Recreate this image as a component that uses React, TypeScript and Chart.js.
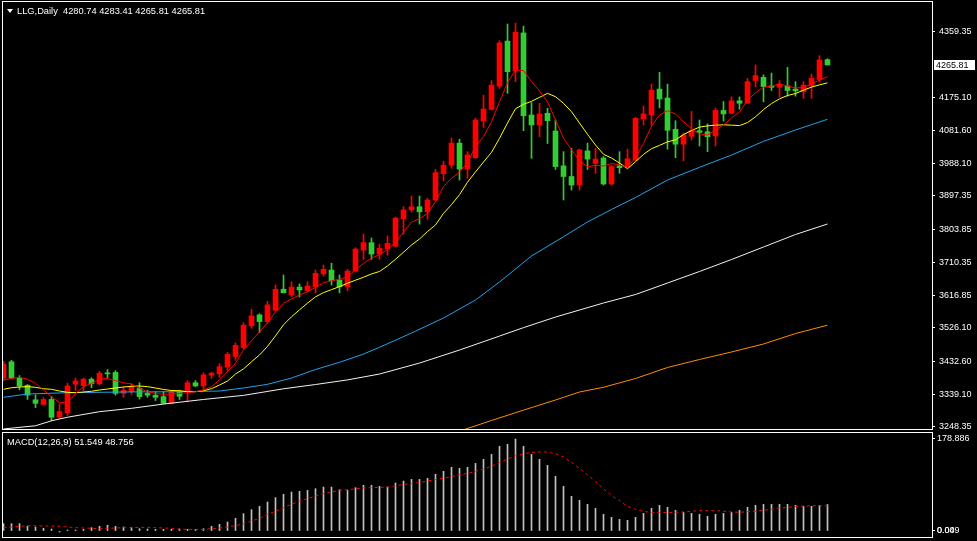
import React, { useEffect, useRef } from "react";
import { Chart, registerables } from "chart.js";

Chart.register(...registerables);

const FONT = "'Liberation Sans', Arial, sans-serif";
const UP = "#ff0000";
const DOWN = "#32cd32";

// ---- price data (daily candles) ----
const opens = [
  3385, 3431, 3385, 3365, 3324, 3311, 3325, 3275, 3288, 3368,
  3364, 3382, 3369, 3400, 3401, 3342, 3347, 3356, 3342, 3337,
  3333, 3314, 3347, 3347, 3372, 3363, 3393, 3397, 3416, 3446,
  3471, 3532, 3563, 3544, 3576, 3635, 3619, 3641, 3631, 3642,
  3678, 3689, 3661, 3642, 3686, 3745, 3766, 3734, 3748, 3756,
  3833, 3858, 3867, 3853, 3886, 3960, 3984, 4046, 3973, 4005,
  4108, 4141, 4206, 4333, 4249, 4356, 4125, 4097, 4130, 4080,
  3982, 3952, 3928, 4024, 3989, 4004, 3931, 3982, 3979, 3998,
  4114, 4125, 4198, 4173, 4085, 4043, 4065, 4081, 4078, 4066,
  4138, 4130, 4165, 4158, 4222, 4231, 4207, 4203, 4207, 4198,
  4191, 4207, 4225, 4280.74,
];
const highs = [
  3432, 3435, 3392, 3367, 3338, 3330, 3333, 3313, 3371, 3385,
  3385, 3386, 3404, 3409, 3406, 3361, 3369, 3372, 3351, 3347,
  3347, 3351, 3351, 3378, 3378, 3400, 3401, 3426, 3457, 3484,
  3541, 3579, 3566, 3601, 3647, 3675, 3656, 3650, 3656, 3689,
  3703, 3708, 3675, 3691, 3752, 3790, 3779, 3762, 3785, 3838,
  3867, 3897, 3897, 3891, 3972, 3995, 4060, 4057, 4022, 4116,
  4181, 4222, 4334, 4381, 4383, 4375, 4160, 4158, 4144, 4111,
  4022, 4031, 4029, 4046, 4031, 4008, 3984, 4022, 4029, 4118,
  4150, 4212, 4245, 4212, 4109, 4074, 4135, 4111, 4100, 4145,
  4163, 4176, 4176, 4228, 4266, 4238, 4243, 4222, 4259, 4219,
  4219, 4240, 4292, 4283.41,
];
const lows = [
  3378, 3383, 3352, 3325, 3302, 3311, 3265, 3272, 3280, 3350,
  3350, 3358, 3366, 3386, 3337, 3331, 3339, 3326, 3331, 3322,
  3313, 3314, 3325, 3319, 3361, 3352, 3384, 3387, 3405, 3435,
  3468, 3525, 3513, 3539, 3574, 3625, 3614, 3613, 3627, 3625,
  3672, 3647, 3625, 3631, 3684, 3719, 3719, 3719, 3731, 3754,
  3790, 3852, 3818, 3832, 3884, 3940, 3975, 3942, 3947, 4003,
  4090, 4139, 4200, 4186, 4219, 4081, 4003, 4064, 4045, 3972,
  3886, 3914, 3914, 3972, 3961, 3928, 3928, 3961, 3979, 3996,
  4097, 4097, 4145, 4029, 4005, 3996, 4055, 4038, 4022, 4038,
  4108, 4128, 4141, 4158, 4205, 4162, 4194, 4175, 4178, 4178,
  4172, 4172, 4218, 4265.81,
];
const closes = [
  3425, 3385, 3363, 3337, 3314, 3325, 3275, 3291, 3363, 3377,
  3382, 3369, 3399, 3397, 3342, 3351, 3359, 3333, 3337, 3331,
  3314, 3345, 3334, 3372, 3363, 3394, 3399, 3417, 3452, 3477,
  3534, 3560, 3544, 3591, 3635, 3625, 3641, 3633, 3644, 3680,
  3691, 3659, 3642, 3686, 3748, 3766, 3734, 3750, 3764, 3835,
  3858, 3867, 3853, 3886, 3963, 3984, 4046, 3973, 4013, 4111,
  4142, 4209, 4328, 4247, 4358, 4123, 4097, 4128, 4109, 3980,
  3952, 3928, 4027, 4001, 4001, 3931, 3980, 3977, 4002, 4116,
  4128, 4195, 4170, 4082, 4043, 4069, 4081, 4076, 4064, 4138,
  4128, 4165, 4158, 4219, 4236, 4205, 4203, 4212, 4194, 4193,
  4209, 4228, 4280, 4265.81,
];

// ---- moving averages ----
const maRed = [
  3379.7, 3384.4, 3387.2, 3381.7, 3370.4, 3351.6, 3332.8, 3316, 3316, 3342,
  3360.8, 3370, 3381.7, 3384.4, 3377.7, 3372, 3368.4, 3356.3, 3346.8, 3342,
  3339.5, 3340.3, 3342, 3344, 3346.8, 3351.6, 3360.8, 3380, 3403, 3426.6,
  3464, 3490, 3515.5, 3540.8, 3571.8, 3595.4, 3607.5, 3618.7, 3628, 3640.4,
  3653.3, 3659, 3663, 3670.2, 3690, 3708, 3722.8, 3732.2, 3746.3, 3766.8,
  3795.8, 3823.9, 3833.4, 3848, 3881.2, 3924, 3947, 3964.7, 3990, 4037.8,
  4064, 4106.2, 4162.4, 4215.9, 4251.6, 4250, 4218.7, 4192.6, 4162.4, 4111,
  4059.5, 4027.5, 3996.6, 3979.6, 3983.6, 3981.6, 3988.6, 3984.4, 3978.8, 4004,
  4045.4, 4094, 4125, 4137.1, 4127.8, 4106.2, 4086.5, 4071.6, 4068.8, 4082.9,
  4097, 4116.6, 4133.5, 4166.4, 4187.8, 4202.9, 4206.6, 4212.2, 4206.6, 4201,
  4202.9, 4212.2, 4223.5, 4232.8,
];
const maYellow = [
  3353.5, 3358, 3360, 3361, 3359.1, 3355.2, 3353.5, 3348.7, 3345, 3344,
  3346, 3348, 3351.6, 3354.4, 3357.2, 3360, 3362, 3362.8, 3361, 3357.2,
  3353, 3350.1, 3349.6, 3346.8, 3346.8, 3349.6, 3355.2, 3365.6, 3376.8, 3396.5,
  3411, 3431, 3450, 3474.3, 3504, 3535, 3557.6, 3577.2, 3596, 3613.6,
  3625.5, 3634, 3642.4, 3651.9, 3660.4, 3668.8, 3678, 3685, 3700.5, 3719.3,
  3739, 3759.4, 3776.3, 3797.4, 3815.7, 3848.5, 3873, 3901, 3936, 3965,
  3992.9, 4020, 4059.5, 4102.5, 4142.8, 4155.2, 4163.6, 4174.8, 4186, 4176.5,
  4157.9, 4134.3, 4102.5, 4070.8, 4040.7, 4014.5, 4004, 3990, 3974.1, 3993.8,
  4014.3, 4030.3, 4039.6, 4049.6, 4055.2, 4070.1, 4081.4, 4090.9, 4094.5, 4096.5,
  4097.4, 4096.5, 4095.4, 4103.8, 4119.9, 4140.4, 4157.3, 4170.5, 4179.9, 4185.4,
  4195, 4203.4, 4209.9, 4215.5,
];
const maBlueAt = [0, 3, 8, 15, 22, 27, 30, 33, 36, 39, 42, 45, 47, 51, 55, 59, 62, 66, 70, 73, 76, 79, 83, 87, 91, 95, 99, 103];
const maBlue = [3331, 3340.3, 3344, 3346, 3346.8, 3348.7, 3357.2, 3367.6, 3385.3, 3409.2, 3429.5, 3452.8, 3471.7, 3511.9, 3554.1, 3604.7, 3655.4, 3728.5, 3782.8, 3824.1, 3859.3, 3893, 3942.2, 3977.9, 4012.5, 4051, 4082.9, 4113];
const maWhiteAt = [0, 4, 6, 8, 12, 16, 20, 25, 30, 35, 39, 43, 47, 52, 57, 62, 65, 69, 75, 79, 83, 87, 91, 95, 99, 103];
const maWhite = [3242, 3251, 3265, 3275, 3290.6, 3300, 3312, 3325, 3336.5, 3355, 3367, 3380, 3396.5, 3427.4, 3464, 3503.3, 3527, 3556.8, 3596.3, 3620.2, 3652.5, 3684.9, 3718.6, 3753.8, 3789, 3818.5];
const maOrangeAt = [57, 61, 65, 69, 72, 75, 79, 83, 87, 91, 95, 99, 103];
const maOrange = [3236, 3265.8, 3295, 3323.5, 3346, 3359.3, 3383.9, 3414.9, 3437.4, 3458.5, 3481, 3510.5, 3533.9];

// ---- MACD(12,26,9) ----
const macdMain = [
  14.3, 14.3, 14.3, 9.1, 7.8, 5.2, 3.9, -2, 2, 2,
  3, 6.5, 9.1, 11, 9.1, 7.8, 6.5, 4.5, 3.9, 3.2,
  3.2, 3.2, 3.9, 3.2, 3.2, 4.5, 9.1, 13, 17.5, 24.6,
  33.7, 41.5, 48, 56.4, 64.8, 71.3, 75.8, 77.1, 79, 82.3,
  85.5, 85.5, 80.4, 79, 84.2, 88.8, 88.8, 86.8, 85.5, 93.3,
  97.2, 100.4, 100.4, 102.4, 110.2, 116, 123.8, 121.8, 123.8, 131.5,
  139.3, 149, 164.6, 168.5, 178.886, 164.6, 149, 139.3, 127.7, 106.3,
  86.8, 67.4, 59.6, 51.8, 44, 32.4, 26.6, 22.7, 20.7, 26.6,
  34.3, 44, 49.9, 46, 40.2, 36.3, 34.3, 32.4, 28.5, 32.4,
  34.3, 36.3, 40.2, 46, 49.9, 51.8, 51.8, 51.8, 51.8, 49.9,
  48, 48, 49.9, 51.549,
];
const macdSignal = [
  6.5, 7.8, 9.1, 10.4, 10.4, 9.7, 9.7, 9.1, 7.8, 6.5,
  5.8, 5.2, 4.5, 5.2, 5.8, 6.5, 6.5, 7.1, 7.1, 6.5,
  5.8, 5.2, 3.9, 3.2, 2.6, 3.2, 4.5, 5.8, 7.8, 10.4,
  14.3, 19.4, 24.6, 32.4, 38.2, 45.4, 51.8, 58.3, 62.9, 68,
  72.6, 76, 79, 80.5, 82, 83.8, 84.2, 84.8, 85.5, 87.8,
  90.5, 92.5, 94.6, 97, 100, 102.4, 106, 109.5, 112, 115.5,
  120.5, 126, 133, 140, 146, 150.3, 152.5, 154, 153.5, 150.5,
  143.9, 133.5, 122, 109, 96, 82, 69, 59, 48, 42,
  38, 36.3, 35.8, 35.8, 36.3, 37, 38.5, 39.5, 39.5, 39.5,
  38.5, 37, 36.3, 37.6, 38.5, 40.5, 42, 44.5, 46, 47.5,
  48.5, 49, 49.5, 48.756,
];

// ---- axis ticks ----
const priceTicks = [3248.35, 3339.1, 3432.6, 3526.1, 3616.85, 3710.35, 3803.85, 3897.35, 3988.1, 4081.6, 4175.1, 4359.35];
const macdTicks = [0, 0.049, 178.886];
const macdTickLabels = ["0.00", "0.049", "178.886"];

const X_MIN = -0.0625;
const X_MAX = 116.0625;

const framePlugin = {
  id: "frame",
  afterDatasetsDraw(chart: any) {
    const { ctx, chartArea: a } = chart;
    ctx.save();
    ctx.strokeStyle = "#ffffff";
    ctx.lineWidth = 1;
    ctx.strokeRect(a.left - 0.5, a.top - 0.5, a.right - a.left + 1, a.bottom - a.top + 1);
    ctx.restore();
  },
};

const pricePlugin = {
  id: "lastPrice",
  afterDraw(chart: any) {
    const { ctx, chartArea: a } = chart;
    const last = closes[closes.length - 1];
    const y = Math.round(chart.scales.y.getPixelForValue(last));
    ctx.save();
    ctx.fillStyle = "#ffffff";
    ctx.fillRect(a.right + 2, y - 5, 41, 10);
    ctx.fillStyle = "#000000";
    ctx.font = `9px ${FONT}`;
    ctx.textBaseline = "middle";
    ctx.textAlign = "left";
    ctx.fillText(last.toFixed(2), a.right + 4, y + 0.5);
    ctx.restore();
  },
};

function xyPairs(at: number[], vals: number[]) {
  return at.map((x, k) => ({ x, y: vals[k] }));
}

const fitRight = (scale: any) => {
  scale.width = 45;
  scale.paddingTop = 0;
  scale.paddingBottom = 0;
};

export default function App() {
  const mainRef = useRef<HTMLCanvasElement>(null);
  const macdRef = useRef<HTMLCanvasElement>(null);

  useEffect(() => {
    const idx = opens.map((_, i) => i);
    const colors = idx.map((i) => (closes[i] >= opens[i] ? UP : DOWN));
    const lineDs = (label: string, data: any[], color: string) => ({
      type: "line" as const,
      label,
      data,
      borderColor: color,
      borderWidth: 1,
      pointRadius: 0,
      tension: 0,
      fill: false,
      order: 0,
    });

    const main = new Chart(mainRef.current as HTMLCanvasElement, {
      type: "bar",
      data: {
        datasets: [
          lineDs("MA red", idx.map((i) => ({ x: i, y: maRed[i] })), "#ff0000"),
          lineDs("MA yellow", idx.map((i) => ({ x: i, y: maYellow[i] })), "#ffff00"),
          lineDs("MA blue", xyPairs(maBlueAt, maBlue), "#1fa3ec"),
          lineDs("MA white", xyPairs(maWhiteAt, maWhite), "#f2f2f2"),
          lineDs("MA orange", xyPairs(maOrangeAt, maOrange), "#ff8c00"),
          {
            type: "bar" as const,
            label: "body",
            data: idx.map((i) => ({ x: i, y: [opens[i], closes[i]] })) as any,
            backgroundColor: colors,
            borderWidth: 0,
            grouped: false,
            barPercentage: 1,
            categoryPercentage: 1,
            maxBarThickness: 5,
            minBarLength: 1,
            order: 1,
          },
          {
            type: "bar" as const,
            label: "wick",
            data: idx.map((i) => ({ x: i, y: [lows[i], highs[i]] })) as any,
            backgroundColor: colors,
            borderWidth: 0,
            grouped: false,
            barPercentage: 1,
            categoryPercentage: 1,
            maxBarThickness: 1,
            minBarLength: 1,
            order: 2,
          },
        ] as any,
      },
      options: {
        animation: false,
        responsive: true,
        maintainAspectRatio: false,
        devicePixelRatio: 1,
        layout: { padding: { left: 3, top: 2, right: 0, bottom: 2 } },
        plugins: { legend: { display: false }, tooltip: { enabled: false } },
        events: [],
        scales: {
          x: {
            type: "linear",
            min: X_MIN,
            max: X_MAX,
            offset: false,
            display: false,
            grid: { offset: false },
          },
          y: {
            type: "linear",
            position: "right",
            min: 3241.9,
            max: 4442.9,
            afterBuildTicks: (scale: any) => {
              scale.ticks = priceTicks.map((value) => ({ value }));
            },
            afterFit: fitRight,
            ticks: {
              autoSkip: false,
              color: "#ffffff",
              padding: 4,
              font: { family: FONT, size: 9 },
              callback: (v: any) => Number(v).toFixed(2),
            },
            grid: { drawOnChartArea: false, drawTicks: true, tickLength: 3, color: "#ffffff" },
            border: { display: true, color: "#ffffff", width: 1 },
          },
        },
      } as any,
      plugins: [framePlugin, pricePlugin],
    });

    const macd = new Chart(macdRef.current as HTMLCanvasElement, {
      type: "bar",
      data: {
        datasets: [
          {
            type: "line" as const,
            label: "Signal",
            data: idx.map((i) => ({ x: i, y: macdSignal[i] })),
            borderColor: "#ff0000",
            borderWidth: 1,
            borderDash: [3, 3],
            pointRadius: 0,
            tension: 0,
            order: 0,
          },
          {
            type: "bar" as const,
            label: "MACD",
            data: idx.map((i) => ({ x: i, y: macdMain[i] })),
            backgroundColor: "#c0c0c0",
            borderWidth: 0,
            grouped: false,
            barPercentage: 1,
            categoryPercentage: 1,
            maxBarThickness: 1,
            order: 1,
          },
        ] as any,
      },
      options: {
        animation: false,
        responsive: true,
        maintainAspectRatio: false,
        devicePixelRatio: 1,
        layout: { padding: { left: 3, top: 2, right: 0, bottom: 4 } },
        plugins: { legend: { display: false }, tooltip: { enabled: false } },
        events: [],
        scales: {
          x: {
            type: "linear",
            min: X_MIN,
            max: X_MAX,
            offset: false,
            display: false,
            grid: { offset: false },
          },
          y: {
            type: "linear",
            position: "right",
            min: -11.67,
            max: 190.55,
            afterBuildTicks: (scale: any) => {
              scale.ticks = macdTicks.map((value) => ({ value }));
            },
            afterFit: fitRight,
            ticks: {
              autoSkip: false,
              color: "#ffffff",
              padding: 2,
              font: { family: FONT, size: 9 },
              callback: (v: any) => {
                const k = macdTicks.indexOf(Number(v));
                return k >= 0 ? macdTickLabels[k] : "";
              },
            },
            grid: { drawOnChartArea: false, drawTicks: true, tickLength: 3, color: "#ffffff" },
            border: { display: true, color: "#ffffff", width: 1 },
          },
        },
      } as any,
      plugins: [framePlugin],
    });

    return () => {
      main.destroy();
      macd.destroy();
    };
  }, []);

  const textStyle: React.CSSProperties = {
    position: "absolute",
    color: "#ffffff",
    fontFamily: FONT,
    fontSize: 9.3,
    lineHeight: "10px",
    whiteSpace: "pre",
  };

  return (
    <div style={{ position: "absolute", left: 0, top: 0, width: 977, height: 541, background: "#000", overflow: "hidden" }}>
      <div style={{ position: "absolute", left: 0, top: 0, width: 977, height: 431 }}>
        <canvas ref={mainRef} />
      </div>
      <div style={{ position: "absolute", left: 0, top: 431, width: 977, height: 110 }}>
        <canvas ref={macdRef} />
      </div>
      <div
        style={{
          position: "absolute",
          left: 7,
          top: 9,
          width: 0,
          height: 0,
          borderLeft: "3px solid transparent",
          borderRight: "3px solid transparent",
          borderTop: "4px solid #ffffff",
        }}
      />
      <div style={{ ...textStyle, left: 17, top: 6 }}>LLG,Daily  4280.74 4283.41 4265.81 4265.81</div>
      <div style={{ ...textStyle, left: 7, top: 437 }}>MACD(12,26,9) 51.549 48.756</div>
    </div>
  );
}
